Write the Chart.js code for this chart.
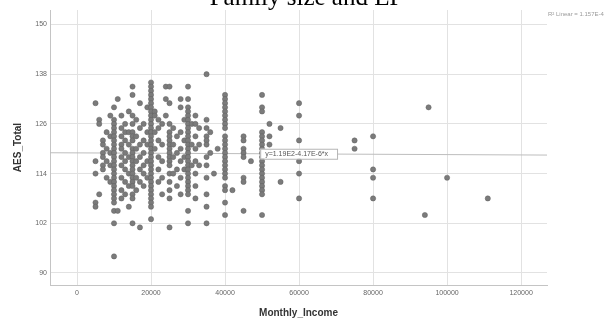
<!DOCTYPE html>
<html>
<head>
<meta charset="utf-8">
<script src="https://cdn.jsdelivr.net/npm/chart.js@4.4.1/dist/chart.umd.min.js"></script>
<style>
  html, body { margin: 0; padding: 0; background: #fff; }
  #wrap { position: relative; width: 613px; height: 320px; overflow: hidden; }
  #title {
    position: absolute; left: 0; width: 613px; top: -17px; text-align: center;
    font-family: 'Liberation Serif', 'Times New Roman', serif; font-size: 25px; color: #000;
  }
  #rlabel {
    position: absolute; left: 548px; top: 11px; white-space: nowrap;
    font-family: 'Liberation Sans', Arial, sans-serif; font-size: 6px; color: #9a9a9a;
  }
</style>
</head>
<body>
<div id="wrap">
  <canvas id="chart" width="613" height="320"></canvas>
  <div id="title">Family size and EP</div>
  <div id="rlabel">R² Linear = 1.157E-4</div>
</div>
<script>
// Monthly income levels and the AES_Total scores observed at each level
const incomeLevels = [
  5000, 6000, 7000, 8000, 9000, 10000, 11000, 12000, 13000, 14000, 15000,
  16000, 17000, 18000, 19000, 20000, 21000, 22000, 23000, 24000, 25000, 26000,
  27000, 28000, 29000, 30000, 31000, 32000, 33000, 35000, 36000, 37000, 38000, 40000,
  42000, 45000, 47000, 50000, 52000, 55000, 60000, 75000, 80000, 94000,
  95000, 100000, 111000
];
const aesTotals = [
  [131, 117, 114, 107, 106],
  [127, 126, 109],
  [122, 121, 119, 118, 116, 115],
  [124, 120, 117, 113],
  [128, 123, 119, 116, 112],
  [130, 127, 126, 125, 124, 123, 122, 121, 120, 119, 118, 117, 116, 115, 114, 113, 112, 111, 110, 109, 108, 107, 105, 102, 94],
  [132, 105],
  [128, 125, 123, 121, 120, 118, 116, 113, 110, 108],
  [126, 124, 122, 119, 117, 115, 112, 109],
  [129, 124, 121, 118, 114, 111, 106],
  [135, 133, 128, 126, 124, 123, 122, 120, 119, 118, 117, 116, 115, 114, 113, 112, 111, 109, 108, 102],
  [127, 123, 120, 117, 113, 110],
  [131, 125, 121, 118, 115, 112, 101],
  [126, 122, 119, 116, 114, 111],
  [130, 124, 121, 117, 113],
  [136, 135, 134, 133, 132, 131, 130, 129, 128, 127, 126, 125, 124, 123, 122, 121, 120, 119, 118, 117, 116, 115, 114, 113, 112, 111, 110, 109, 108, 107, 106, 103],
  [129, 128, 124, 120],
  [127, 125, 122, 118, 115, 112],
  [126, 121, 117, 113, 109],
  [135, 132, 128],
  [135, 131, 126, 124, 123, 122, 121, 120, 119, 118, 117, 116, 114, 112, 110, 108, 101],
  [125, 121, 118, 114],
  [123, 119, 115, 111],
  [132, 130, 124, 120, 117, 113, 109],
  [127, 122, 118, 115],
  [135, 132, 130, 129, 128, 127, 126, 125, 124, 123, 122, 121, 120, 119, 118, 117, 116, 115, 114, 113, 112, 111, 110, 109, 105, 102],
  [126, 121, 116],
  [128, 126, 123, 120, 117, 114, 111, 108],
  [125, 121, 116],
  [138, 127, 125, 123, 122, 121, 118, 116, 113, 109, 106, 102],
  [124, 119],
  [114],
  [120],
  [133, 132, 131, 130, 129, 128, 127, 126, 125, 123, 122, 121, 120, 119, 118, 117, 116, 115, 114, 113, 111, 110, 107, 104],
  [110],
  [123, 122, 120, 119, 118, 113, 112, 105],
  [117],
  [133, 130, 129, 124, 123, 122, 121, 120, 119, 118, 117, 116, 115, 114, 113, 112, 111, 110, 109, 104],
  [126, 123, 121],
  [125, 112],
  [131, 128, 122, 117, 114, 108],
  [122, 120],
  [123, 115, 113, 108],
  [104],
  [130],
  [113],
  [108]
];

// axis ticks and the linear fit shown in the picture
const xTickValues = [0, 20000, 40000, 60000, 80000, 100000, 120000];
const yTickValues = [90, 102, 114, 126, 138, 150];
const fitIntercept = 119.0;
const fitSlope = -4.17e-6;
const fitLabel = 'y=1.19E2-4.17E-6*x';
const fitLabelAt = 49500;

const X_MIN = -7300, X_MAX = 127000;
const Y_MIN = 87.1, Y_MAX = 153.5;

const points = [];
incomeLevels.forEach((inc, i) => {
  aesTotals[i].forEach(v => points.push({ x: inc, y: v }));
});

const fitLine = [X_MIN, X_MAX].map(x => ({ x, y: fitIntercept + fitSlope * x }));

// small boxed equation sitting on the fit line
const fitLabelPlugin = {
  id: 'fitLabel',
  afterDatasetsDraw(chart) {
    const { ctx, scales: { x, y } } = chart;
    const px = x.getPixelForValue(fitLabelAt);
    const py = y.getPixelForValue(fitIntercept + fitSlope * fitLabelAt);
    ctx.save();
    ctx.font = "7px 'Liberation Sans', Arial, sans-serif";
    const w = ctx.measureText(fitLabel).width + 14;
    ctx.fillStyle = '#fff';
    ctx.strokeStyle = '#b5b5b5';
    ctx.lineWidth = 1;
    ctx.fillRect(px, py - 5, w, 10);
    ctx.strokeRect(px + 0.5, py - 4.5, w, 10);
    ctx.fillStyle = '#555';
    ctx.textBaseline = 'middle';
    ctx.fillText(fitLabel, px + 5, py + 0.5);
    ctx.restore();
  }
};

const tickFont = { family: "'Liberation Sans', Arial, sans-serif", size: 7 };
const titleFont = { family: "'Liberation Sans', Arial, sans-serif", size: 10, weight: 'bold' };

new Chart(document.getElementById('chart'), {
  type: 'scatter',
  data: {
    datasets: [
      {
        label: 'AES_Total',
        data: points,
        backgroundColor: '#7b7b7b',
        borderColor: '#606060',
        borderWidth: 0.5,
        pointRadius: 2.6
      },
      {
        type: 'line',
        label: 'Fit',
        data: fitLine,
        borderColor: '#bdbdbd',
        borderWidth: 1,
        pointRadius: 0,
        fill: false
      }
    ]
  },
  options: {
    responsive: false,
    animation: false,
    layout: { padding: { left: 0, right: 66, top: 10, bottom: 0 } },
    plugins: {
      legend: { display: false },
      tooltip: { enabled: false }
    },
    scales: {
      x: {
        type: 'linear',
        min: X_MIN,
        max: X_MAX,
        afterBuildTicks: s => { s.ticks = xTickValues.map(v => ({ value: v })); },
        afterFit: s => { s.height = 35; },
        ticks: { font: tickFont, color: '#666', padding: 4, maxRotation: 0, callback: v => String(v) },
        grid: { color: '#e2e2e2', drawTicks: false },
        border: { color: '#c4c4c4' },
        title: { display: true, text: 'Monthly_Income', font: titleFont, color: '#333', padding: { top: 0, bottom: 1 } }
      },
      y: {
        type: 'linear',
        min: Y_MIN,
        max: Y_MAX,
        afterBuildTicks: s => { s.ticks = yTickValues.map(v => ({ value: v })); },
        afterFit: s => { s.width = 50; },
        ticks: { font: tickFont, color: '#666', padding: 3, callback: v => String(v) },
        grid: { color: '#e2e2e2', drawTicks: false },
        border: { color: '#c4c4c4' },
        title: { display: true, text: 'AES_Total', font: titleFont, color: '#333', padding: { top: 12, bottom: 0 } }
      }
    }
  },
  plugins: [fitLabelPlugin]
});
</script>
</body>
</html>
